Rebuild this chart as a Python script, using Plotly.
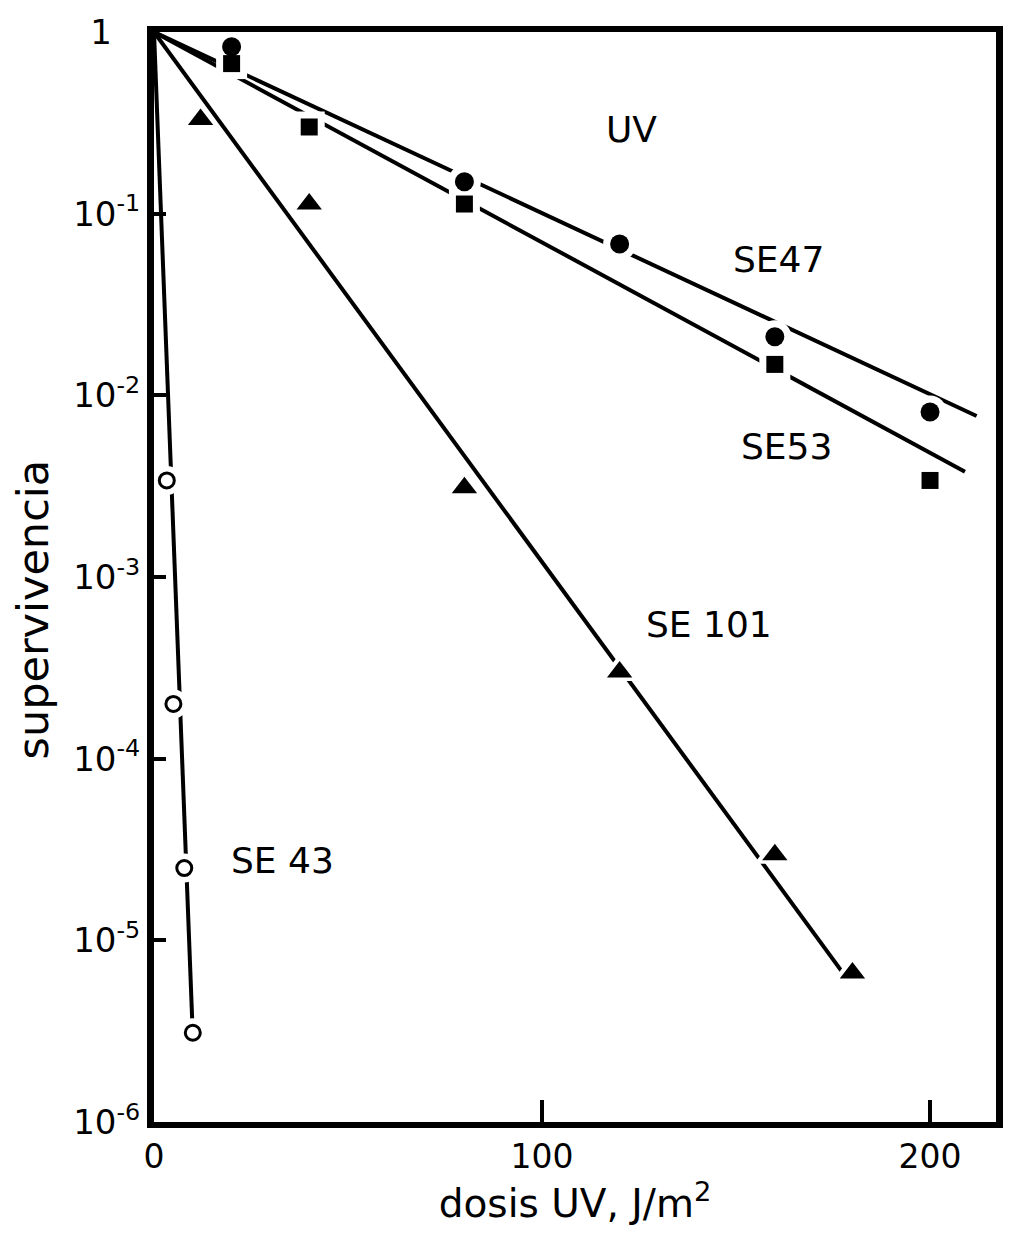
import plotly.graph_objects as go
import numpy as np

# ---- data ----
se47_dose = [20, 80, 120, 160, 200]
se47_surv = [0.83, 0.15, 0.068, 0.021, 0.0081]
se47_fit_dose = [0, 212]
se47_fit_surv = [1, 0.0077]

se53_dose = [20, 40, 80, 160, 200]
se53_surv = [0.67, 0.30, 0.113, 0.0148, 0.0034]
se53_fit_dose = [0, 209]
se53_fit_surv = [1, 0.0038]

se101_dose = [12, 40, 80, 120, 160, 180]
se101_surv = [0.33, 0.113, 0.0031, 0.00030, 2.96e-5, 6.6e-6]
se101_fit_dose = [0, 179]
se101_fit_surv = [1, 6.0e-6]

se43_dose = [3.3, 5, 7.8, 10]
se43_surv = [0.0034, 2.0e-4, 2.5e-5, 3.1e-6]
se43_fit_dose = [0, 10]
se43_fit_surv = [1, 3.0e-6]

x_tickvals = [0, 100, 200]
y_tickvals = [1, 1e-1, 1e-2, 1e-3, 1e-4, 1e-5, 1e-6]
y_ticktext = ["1&nbsp;&nbsp;&#8201;", "10<sup>-1</sup>", "10<sup>-2</sup>", "10<sup>-3</sup>",
              "10<sup>-4</sup>", "10<sup>-5</sup>", "10<sup>-6</sup>"]

labels = ["UV", "SE47", "SE53", "SE 101", "SE 43"]
label_x = [123, 161, 163, 143, 33]
label_y = [0.29, 0.056, 0.0052, 5.5e-4, 2.75e-5]

FONT = "DejaVu Sans"
fig = go.Figure()

fits = [(se47_fit_dose, se47_fit_surv), (se53_fit_dose, se53_fit_surv),
        (se101_fit_dose, se101_fit_surv), (se43_fit_dose, se43_fit_surv)]
for fx, fy in fits:
    fig.add_trace(go.Scatter(x=fx, y=fy, mode="lines",
                             line=dict(color="black", width=4), showlegend=False,
                             cliponaxis=False))

series = [
    (se47_dose, se47_surv, "circle", 19, "black", 0),
    (se53_dose, se53_surv, "square", 17, "black", 0),
    (se101_dose, se101_surv, "triangle-up", 22, "black", 0),
    (se43_dose, se43_surv, "circle", 15, "white", 3),
]
# white halos to break lines around markers
for dx, dy, sym, sz, fc, lw in series:
    fig.add_trace(go.Scatter(x=dx, y=dy, mode="markers",
                             marker=dict(symbol=sym, size=sz + 14, color="white",
                                         line=dict(width=0)),
                             showlegend=False))
for dx, dy, sym, sz, fc, lw in series:
    fig.add_trace(go.Scatter(x=dx, y=dy, mode="markers",
                             marker=dict(symbol=sym, size=sz, color=fc,
                                         line=dict(color="black", width=lw)),
                             showlegend=False, cliponaxis=False))

for t, lx, ly in zip(labels, label_x, label_y):
    fig.add_annotation(x=lx, y=np.log10(ly), text=t, showarrow=False,
                       font=dict(family=FONT, size=36, color="black"))

fig.add_annotation(xref="paper", yref="paper", x=-0.176, y=0.47,
                   text="supervivencia", textangle=-90, showarrow=False,
                   font=dict(family=FONT, size=43, color="black"))

fig.update_xaxes(range=[0, 217.0], tickvals=x_tickvals, ticks="inside", ticklen=22,
                 tickwidth=4, tickcolor="black", showline=True, linewidth=6,
                 linecolor="black", mirror=True, showgrid=False, zeroline=False,
                 tickfont=dict(family=FONT, size=33, color="black"),
                 title=dict(text="dosis UV, J/m<sup>2</sup>",
                            font=dict(family=FONT, size=39, color="black"),
                            standoff=6))
fig.update_yaxes(type="log", range=[-6, 0], tickvals=y_tickvals, ticktext=y_ticktext,
                 ticks="inside", ticklen=12, tickwidth=4, tickcolor="black",
                 showline=True, linewidth=7, linecolor="black", mirror=True,
                 showgrid=False, zeroline=False,
                 tickfont=dict(family=FONT, size=34, color="black"))

fig.update_layout(width=1015, height=1236, plot_bgcolor="white", paper_bgcolor="white",
                  margin=dict(l=154, r=12, t=30, b=114), showlegend=False)

fig.write_html("out.html")
